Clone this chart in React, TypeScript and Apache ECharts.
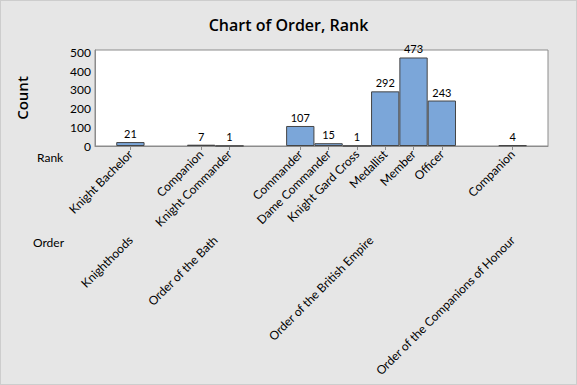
import React, { useEffect, useRef } from 'react';
import * as echarts from 'echarts';

const orders = [
  'Knighthoods',
  'Order of the Bath',
  'Order of the British Empire',
  'Order of the Companions of Honour',
];
const ranksByOrder = [
  ['Knight Bachelor'],
  ['Companion', 'Knight Commander'],
  ['Commander', 'Dame Commander', 'Knight Gard Cross', 'Medallist', 'Member', 'Officer'],
  ['Companion'],
];
const countsByOrder = [
  [21],
  [7, 1],
  [107, 15, 1, 292, 473, 243],
  [4],
];
const yTicks = [0, 100, 200, 300, 400, 500];
const GROUP_GAP = 1.5;

const FONT = '"Open Sans", "Noto Sans", "DejaVu Sans", sans-serif';
const SMALL_FONT = 'Lato, "Open Sans", sans-serif';

export default function App() {
  const ref = useRef<HTMLDivElement>(null);

  useEffect(() => {
    if (!ref.current) return;
    const chart = echarts.init(ref.current, undefined, { renderer: 'svg' });

    // positions along the x axis derived from category order and group gaps
    const rankPos: { pos: number; name: string; value: number }[] = [];
    const groupPos: { pos: number; name: string }[] = [];
    let idx = 0;
    ranksByOrder.forEach((ranks, g) => {
      const ps: number[] = [];
      ranks.forEach((r, i) => {
        const pos = idx + g * GROUP_GAP;
        rankPos.push({ pos, name: r, value: countsByOrder[g][i] });
        ps.push(pos);
        idx++;
      });
      groupPos.push({ pos: ps.reduce((a, b) => a + b, 0) / ps.length, name: orders[g] });
    });
    const near = (a: number, b: number) => Math.abs(a - b) < 1e-6;

    const labelStyle = { fontFamily: SMALL_FONT, fontSize: 12, color: '#000' };

    chart.setOption({
      animation: false,
      backgroundColor: 'transparent',
      title: {
        text: 'Chart of Order, Rank',
        left: 'center',
        top: 12,
        textStyle: { fontFamily: FONT, fontSize: 16, fontWeight: 600, color: '#000' },
      },
      grid: {
        left: 95,
        right: 29,
        top: 50,
        bottom: 239,
        show: true,
        backgroundColor: '#ffffff',
        borderColor: '#8c8c8c',
        borderWidth: 1,
      },
      xAxis: [
        {
          type: 'value',
          min: -1.25,
          max: 14.75,
          position: 'bottom',
          axisLine: { show: true, onZero: false, lineStyle: { color: '#8c8c8c', width: 1 } },
          axisTick: {
            show: true,
            length: 4,
            customValues: rankPos.map((r) => r.pos),
            lineStyle: { color: '#8c8c8c' },
          },
          splitLine: { show: false },
          axisLabel: {
            ...labelStyle,
            rotate: 45,
            margin: 6,
            customValues: rankPos.map((r) => r.pos),
            formatter: (v: number) => {
              const f = rankPos.find((r) => near(r.pos, v));
              return f ? f.name : '';
            },
          },
        },
        {
          type: 'value',
          min: -1.25,
          max: 14.75,
          position: 'bottom',
          offset: 86,
          axisLine: { show: false, onZero: false },
          axisTick: { show: false },
          splitLine: { show: false },
          axisLabel: {
            ...labelStyle,
            rotate: 45,
            margin: 6,
            customValues: groupPos.map((r) => r.pos),
            formatter: (v: number) => {
              const f = groupPos.find((r) => near(r.pos, v));
              return f ? f.name : '';
            },
          },
        },
      ],
      yAxis: {
        type: 'value',
        min: 0,
        max: 513,
        interval: 100,
        name: 'Count',
        nameLocation: 'middle',
        nameGap: 66,
        nameTextStyle: { fontFamily: FONT, fontSize: 15, fontWeight: 600, color: '#000' },
        axisLine: { show: true, onZero: false, lineStyle: { color: '#8c8c8c' } },
        axisTick: { show: false },
        splitLine: { show: false },
        axisLabel: {
          ...labelStyle,
          margin: 4,
          showMaxLabel: false,
          formatter: (v: number) => (yTicks.includes(v) ? String(v) : ''),
        },
      },
      graphic: [
        { type: 'text', left: 37, top: 151, style: { text: 'Rank', fill: '#000', font: `12px ${SMALL_FONT}` } },
        { type: 'text', left: 33, top: 236, style: { text: 'Order', fill: '#000', font: `12px ${SMALL_FONT}` } },
      ],
      series: [
        {
          type: 'bar',
          xAxisIndex: 0,
          barWidth: '100%',
          data: rankPos.map((r) => [r.pos, r.value]),
          itemStyle: { color: '#7ba6d9', borderColor: '#454545', borderWidth: 1 },
          label: {
            show: true,
            position: 'top',
            distance: 3,
            fontFamily: SMALL_FONT,
            fontSize: 11,
            color: '#000',
            formatter: (p: any) => String(p.value[1]),
          },
        },
      ],
    });

    return () => chart.dispose();
  }, []);

  return (
    <div
      style={{
        position: 'fixed',
        left: 0,
        top: 0,
        width: 577,
        height: 385,
        background: '#e6e6e6',
        boxShadow: 'inset 0 0 0 1px #cdcdcd',
      }}
    >
      <div ref={ref} style={{ width: 577, height: 385 }} />
    </div>
  );
}
